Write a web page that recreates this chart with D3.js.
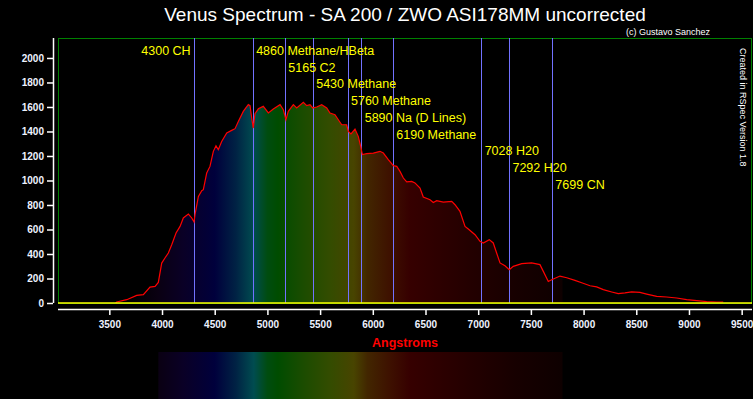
<!DOCTYPE html>
<html>
<head>
<meta charset="utf-8">
<script src="https://cdn.jsdelivr.net/npm/d3@7"></script>
<style>
  html, body { margin: 0; padding: 0; background: #000; }
  svg { display: block; }
</style>
</head>
<body>
<div id="chart"></div>
<script>
// spectrum (Angstroms / counts)
const wavelength = [3560, 3570, 3665, 3760, 3823, 3886, 3934, 3965, 3997, 4028, 4060, 4092, 4133, 4171, 4202, 4250, 4282, 4304, 4313, 4345, 4377, 4392, 4424, 4455, 4487, 4512, 4534, 4566, 4614, 4661, 4693, 4724, 4771, 4819, 4835, 4851, 4866, 4882, 4914, 4961, 5009, 5056, 5120, 5151, 5176, 5198, 5246, 5278, 5341, 5373, 5404, 5430, 5468, 5515, 5563, 5594, 5641, 5673, 5705, 5752, 5768, 5793, 5831, 5862, 5885, 5901, 5942, 6005, 6068, 6100, 6147, 6195, 6227, 6258, 6290, 6322, 6369, 6400, 6448, 6479, 6543, 6574, 6606, 6669, 6749, 6780, 6827, 6875, 6906, 6970, 7017, 7048, 7105, 7143, 7175, 7207, 7254, 7295, 7333, 7413, 7507, 7586, 7618, 7665, 7697, 7776, 7840, 7918, 7982, 8061, 8124, 8187, 8267, 8329, 8393, 8456, 8535, 8599, 8694, 8788, 8883, 8978, 9073, 9168, 9263, 9325];
const intensity = [0, 8, 27, 62, 68, 130, 136, 168, 326, 367, 408, 476, 571, 625, 694, 726, 694, 661, 721, 870, 917, 925, 1061, 1115, 1238, 1284, 1251, 1319, 1388, 1409, 1423, 1482, 1564, 1619, 1611, 1510, 1428, 1545, 1585, 1605, 1551, 1584, 1619, 1578, 1496, 1564, 1619, 1592, 1638, 1611, 1619, 1592, 1600, 1619, 1592, 1551, 1537, 1496, 1455, 1455, 1401, 1380, 1420, 1360, 1278, 1211, 1219, 1224, 1238, 1224, 1170, 1121, 1115, 1074, 1020, 988, 993, 980, 939, 865, 843, 821, 835, 824, 829, 802, 748, 625, 604, 557, 503, 490, 517, 490, 408, 327, 304, 272, 299, 321, 327, 313, 258, 176, 190, 220, 206, 185, 165, 141, 131, 109, 90, 76, 82, 90, 87, 73, 54, 49, 41, 27, 19, 11, 8, 8];

// marked lines
const lineWl = [4300, 4860, 5165, 5430, 5760, 5890, 6190, 7028, 7292, 7699];
const lineLabels = ["4300 CH", "4860 Methane/HBeta", "5165 C2", "5430 Methane", "5760 Methane", "5890 Na (D Lines)", "6190 Methane", "7028 H20", "7292 H20", "7699 CN"];

const xTicks = [3500, 4000, 4500, 5000, 5500, 6000, 6500, 7000, 7500, 8000, 8500, 9000, 9500];
const yTicks = [0, 200, 400, 600, 800, 1000, 1200, 1400, 1600, 1800, 2000];

// colour of the synthetic spectrum under the curve
const spectrumStops = [
  [3700, "#000000"], [3960, "#0a0012"], [4200, "#0a0026"], [4500, "#00003c"],
  [4700, "#002244"], [4870, "#004c50"], [5000, "#004c10"], [5100, "#004c00"],
  [5350, "#1c4c00"], [5600, "#344c00"], [5820, "#484400"], [5950, "#422600"],
  [6150, "#3e1200"], [6350, "#360000"], [6900, "#240000"], [7350, "#170000"],
  [7800, "#0e0000"]
];

const width = 753, height = 399;
const margin = { top: 38, right: 1, bottom: 96, left: 58 };
const font = "'Liberation Sans', Arial, sans-serif";

const data = wavelength.map((w, i) => ({ w: w, v: intensity[i] }));

const x = d3.scaleLinear().domain([3013, 9598]).range([margin.left, width - margin.right]);
const y = d3.scaleLinear().domain([0, 2163]).range([height - margin.bottom, margin.top]);

const svg = d3.select("#chart").append("svg")
    .attr("width", width)
    .attr("height", height)
    .style("background", "#000");

const defs = svg.append("defs");
const grad = defs.append("linearGradient")
    .attr("id", "spec")
    .attr("gradientUnits", "userSpaceOnUse")
    .attr("x1", x(3700)).attr("x2", x(7800))
    .attr("y1", 0).attr("y2", 0);
grad.selectAll("stop")
    .data(spectrumStops)
    .join("stop")
    .attr("offset", d => (d[0] - 3700) / (7800 - 3700))
    .attr("stop-color", d => d[1]);

defs.append("clipPath").attr("id", "fillclip")
  .append("rect")
    .attr("x", margin.left).attr("y", margin.top)
    .attr("width", x(7800) - margin.left)
    .attr("height", y(0) - margin.top);

// title + credits
svg.append("text")
    .attr("x", 405).attr("y", 21)
    .attr("text-anchor", "middle")
    .attr("fill", "#ffffff")
    .style("font-family", font)
    .style("font-size", "19px")
    .text("Venus Spectrum - SA 200 / ZWO ASI178MM uncorrected");

svg.append("text")
    .attr("x", 626).attr("y", 35)
    .attr("fill", "#ffffff")
    .style("font-family", font)
    .style("font-size", "9px")
    .text("(c) Gustavo Sanchez");

// filled spectrum under the curve
const area = d3.area()
    .x(d => x(d.w))
    .y0(y(0))
    .y1(d => y(d.v));

svg.append("path")
    .datum(data)
    .attr("clip-path", "url(#fillclip)")
    .attr("fill", "url(#spec)")
    .attr("d", area);

// plot frame
svg.append("rect")
    .attr("x", margin.left + 0.5).attr("y", margin.top + 0.5)
    .attr("width", width - margin.right - margin.left - 1)
    .attr("height", y(0) - margin.top)
    .attr("fill", "none")
    .attr("stroke", "#008000");

// marked lines
svg.append("g")
  .selectAll("line")
  .data(lineWl)
  .join("line")
    .attr("x1", d => Math.round(x(d)) + 0.5)
    .attr("x2", d => Math.round(x(d)) + 0.5)
    .attr("y1", margin.top)
    .attr("y2", y(0))
    .attr("stroke", "#7272ff")
    .attr("stroke-width", 1);

// curve
svg.append("path")
    .datum(data)
    .attr("fill", "none")
    .attr("stroke", "#ff0000")
    .attr("stroke-width", 1.2)
    .attr("d", d3.line().x(d => x(d.w)).y(d => y(d.v)));

// zero line
svg.append("line")
    .attr("x1", margin.left).attr("x2", width - margin.right)
    .attr("y1", y(0)).attr("y2", y(0))
    .attr("stroke", "#ffff00")
    .attr("stroke-width", 1.5);

// line labels, first one sits left of its line, the rest step down
svg.append("g")
  .selectAll("text")
  .data(lineWl)
  .join("text")
    .attr("x", (d, i) => i === 0 ? x(d) - 3 : x(d) + 3.5)
    .attr("y", (d, i) => 55 + Math.max(0, i - 1) * 16.7)
    .attr("text-anchor", (d, i) => i === 0 ? "end" : "start")
    .attr("fill", "#ffff00")
    .style("font-family", font)
    .style("font-size", "12.5px")
    .text((d, i) => lineLabels[i]);

// axes
const yAxis = svg.append("g")
    .attr("transform", `translate(${margin.left - 5},0)`)
    .call(d3.axisLeft(y).tickValues(yTicks).tickSizeInner(6).tickSizeOuter(0).tickPadding(3).tickFormat(d3.format("d")));
yAxis.select(".domain").attr("d", `M0.5,${margin.top}V${y(0)}`);

const xAxis = svg.append("g")
    .attr("transform", `translate(0,${y(0) + 6})`)
    .call(d3.axisBottom(x).tickValues(xTicks).tickSizeInner(6).tickSizeOuter(0).tickPadding(6).tickFormat(d3.format("d")));
xAxis.select(".domain").attr("d", `M${margin.left},0.5H${width - margin.right}`);

[yAxis, xAxis].forEach(g => {
  g.selectAll("path, line").attr("stroke", "#ffffff").attr("stroke-width", 1.5);
  g.selectAll("text")
    .attr("fill", "#eef2ff")
    .style("font-family", font)
    .style("font-size", "10px")
    .style("font-weight", "bold");
});

svg.append("text")
    .attr("x", 405).attr("y", 347)
    .attr("text-anchor", "middle")
    .attr("fill", "#ff0000")
    .style("font-family", font)
    .style("font-size", "12.5px")
    .style("font-weight", "bold")
    .text("Angstroms");

svg.append("text")
    .attr("transform", "translate(740,48) rotate(90)")
    .attr("fill", "#ffffff")
    .style("font-family", font)
    .style("font-size", "9px")
    .text("Created in RSpec Version 1.8");

// colour strip under the axis
svg.append("rect")
    .attr("x", x(3965))
    .attr("y", 352)
    .attr("width", x(7800) - x(3965))
    .attr("height", height - 352)
    .attr("fill", "url(#spec)");
</script>
</body>
</html>
